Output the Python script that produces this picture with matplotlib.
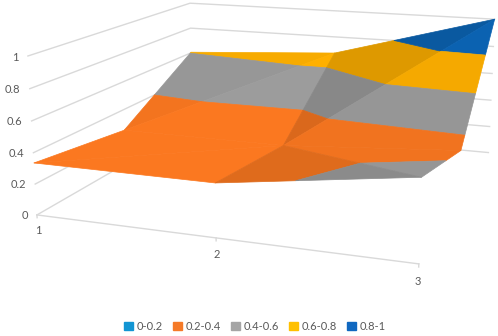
import numpy as np
import matplotlib
matplotlib.use("Agg")
import matplotlib.pyplot as plt
from matplotlib.patches import Patch
from mpl_toolkits.mplot3d import proj3d
from mpl_toolkits.mplot3d.art3d import Poly3DCollection

plt.rcParams['font.family'] = ['Lato', 'DejaVu Sans']

x_vals = [1, 2, 3]
y_vals = [1, 2, 3]
z_vals = [[0.335, 0.335, 0.495],
          [0.25, 0.25, 0.33],
          [0.605, 0.675, 1.0]]
z_ticks = [0, 0.2, 0.4, 0.6, 0.8, 1]
z_labels = ['0', '0.2', '0.4', '0.6', '0.8', '1']
band_names = ['0-0.2', '0.2-0.4', '0.4-0.6', '0.6-0.8', '0.8-1']
band_colors = ['#1295d3', '#fb7820', '#9c9c9c', '#ffb000', '#0b66b8']
legend_colors = ['#1295d3', '#f57a28', '#a5a5a5', '#ffc000', '#1068c0']


def clip(poly, level, keep_above):
    out = []
    for i in range(len(poly)):
        a, b = np.array(poly[i]), np.array(poly[(i + 1) % len(poly)])
        in_a = a[2] >= level if keep_above else a[2] <= level
        in_b = b[2] >= level if keep_above else b[2] <= level
        if in_a:
            out.append(a)
        if in_a != in_b:
            out.append(a + (b - a) * (level - a[2]) / (b[2] - a[2]))
    return out


def P(i, j):
    return (x_vals[i], y_vals[j], z_vals[j][i])


def label(x, y, z, s, ha):
    # plain 2D text at the projected point
    px, py, _ = proj3d.proj_transform(x, y, z, ax.get_proj())
    ax.text2D(px, py, s, transform=ax.transData, ha=ha, va='center', color='#595959', fontsize=8)


# cell triangles, second value darkens the colour
triangles = [
    ((P(0, 0), P(1, 0), P(1, 1)), 1.0),
    ((P(0, 0), P(0, 1), P(1, 1)), 1.0),
    ((P(0, 1), P(1, 1), P(1, 2)), 1.0),
    ((P(0, 1), P(0, 2), P(1, 2)), 0.97),
    ((P(1, 0), P(2, 0), P(1, 1)), 0.89),
    ((P(1, 1), P(2, 1), P(2, 0)), 0.96),
    ((P(1, 1), P(2, 1), P(2, 2)), 0.96),
    ((P(1, 1), P(1, 2), P(2, 2)), 0.87),
]

fig = plt.figure(figsize=(4.98, 3.36), dpi=100)
ax = fig.add_axes([23 / 498, -33.9 / 336, 507 / 498, 507 / 336], projection='3d')
ax.set_xlim(1, 3)
ax.set_ylim(1, 3)
ax.set_zlim(0, 1)
ax.view_init(elev=13.765, azim=-70.411, roll=0)
ax.set_proj_type('persp', focal_length=0.397)
ax.set_box_aspect((2.403, 2.337, 1))
ax.set_axis_off()

grid_c = '#d9d9d9'
for z in z_ticks:
    ax.plot([1, 1, 3], [1, 3, 3], [z, z, z], color=grid_c, lw=1, zorder=1)
ax.plot([1, 3], [1, 1], [0, 0], color=grid_c, lw=1, zorder=1)
for x in x_vals:
    ax.plot([x, x], [1, 1], [0, -0.018], color=grid_c, lw=1, zorder=1)
    label(x, 1, -0.105, str(x), 'center')
for z, lab in zip(z_ticks, z_labels):
    label(0.945, 1, z - 0.012, lab, 'right')

polys, faces = [], []
for tri, shade in triangles:
    for k, col in enumerate(band_colors):
        part = clip(clip(list(tri), z_ticks[k], True), z_ticks[k + 1], False)
        if len(part) >= 3:
            polys.append(part)
            faces.append(np.array(matplotlib.colors.to_rgb(col)) * shade)
surf = Poly3DCollection(polys, facecolors=faces, edgecolors=faces, linewidths=0.5, zorder=3)
ax.add_collection3d(surf)

handles = [Patch(color=c, label=n) for c, n in zip(legend_colors, band_names)]
fig.legend(handles=handles, loc='center', bbox_to_anchor=(255 / 498, 1 - 326 / 336), ncol=5,
           frameon=False, fontsize=8, labelcolor='#595959', handlelength=0.75, handleheight=0.75,
           handletextpad=0.35, columnspacing=0.95, borderpad=0)

fig.savefig("out.png", dpi=100)
